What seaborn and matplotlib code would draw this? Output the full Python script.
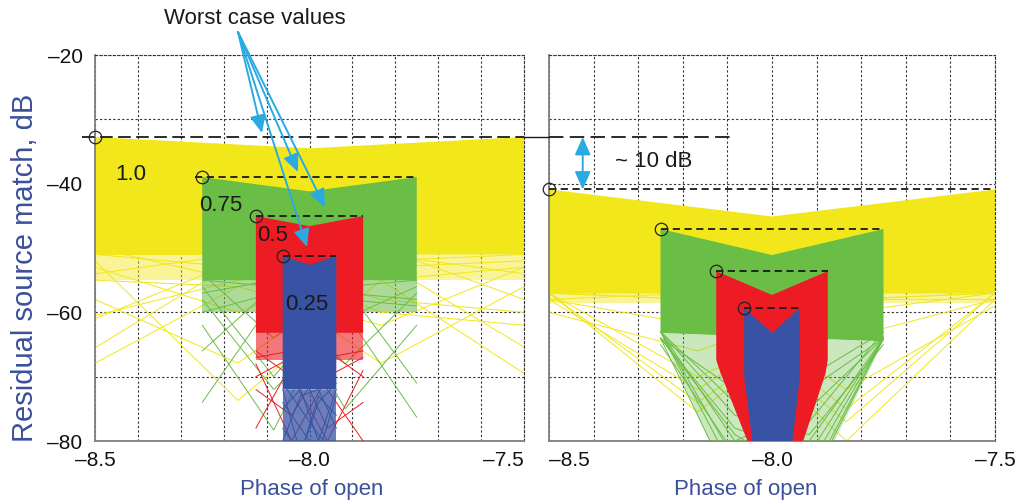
import numpy as np
import pandas as pd
import seaborn as sns
import matplotlib.pyplot as plt
from matplotlib.ticker import MultipleLocator, FuncFormatter

sns.set_theme(style="white")
plt.rcParams["font.family"] = ["Liberation Sans", "DejaVu Sans"]

# levels and colours of the bands
levels = ["1.0", "0.75", "0.5", "0.25"]
band_colors = ["#F2E71B", "#6ABD45", "#ED1C24", "#3853A4"]

# band spans along "Phase of open" (same in both panels)
band_lo = [-8.50, -8.25, -8.125, -8.0625]
band_hi = [-7.50, -7.75, -7.875, -7.9375]

# left panel: worst case (band edges), centre dip, solid / sparse bottoms
a_worst = [-32.75, -38.97, -45.03, -51.25]
a_mid = [-34.5, -41.2, -46.6, -52.6]
a_solid = [-51.0, -55.0, -63.2, -72.0]
a_sparse = [-55.0, -60.0, -67.4, -80.0]
a_dash_start = [-8.53, -8.267, -8.125, -8.0625]

# right panel
b_worst = [-40.9, -47.05, -53.6, -59.3]
b_mid = [-45.1, -51.1, -57.3, -63.2]

# right panel lower outlines (from right edge back to left edge)
b_yellow_bx = [-7.50, -8.50]
b_yellow_by = [-57.0, -57.0]
b_green_bx = [-7.75, -8.25]
b_green_by = [-64.5, -63.2]
b_red_bx = [-7.875, -7.88, -7.93, -8.055, -8.115, -8.125]
b_red_by = [-67.4, -69.5, -80.0, -80.0, -69.5, -67.4]
b_blue_bx = [-7.9375, -7.954, -8.044, -8.0625]
b_blue_by = [-70.0, -80.0, -80.0, -70.0]

# sparse zones of the right panel
b_yellow_sparse = -58.5
b_funnel_x = [-8.25, -8.14, -7.86, -7.75]
b_funnel_y = [-63.2, -80.0, -80.0, -64.5]

# individual stray traces, y at the band edges and at its thirds
a_yellow_traces = [
    [-65.5, -52, -50, -58], [-58, -67.9, -52, -51], [-52, -73.7, -55, -53],
    [-60.5, -55, -53, -52], [-51, -53, -67.9, -56], [-54, -51, -55, -69.5],
    [-50, -55, -52, -65.4], [-61, -52, -58, -60], [-53, -60, -51, -54],
    [-55, -56, -62, -53], [-67.9, -56, -51, -50], [-51, -51, -60, -62],
]
a_green_traces = [
    [-62, -78.3, -56, -55], [-74, -58, -55, -54], [-56, -70, -57, -58],
    [-55, -56, -75, -62], [-57, -55, -60, -76.3], [-60, -57, -68, -57],
    [-54, -64, -56, -71], [-66, -56, -58, -59], [-58, -72, -61, -56],
]
a_red_traces = [
    [-68, -80, -70, -67], [-78, -68, -66, -70], [-66, -70, -80, -69],
    [-70, -67, -72, -80], [-72, -76, -67, -66], [-67, -66, -78, -74],
]
a_blue_traces = [
    [-72, -82, -74, -71], [-80, -73, -72, -78], [-74, -78, -82, -73],
    [-71, -75, -79, -82], [-78, -82, -73, -76], [-75, -72, -80, -72],
]
b_yellow_traces = [
    [-57, -75.5, -58, -57], [-58, -72, -57, -57], [-57, -70, -60, -57],
    [-57, -58, -80, -58], [-57, -58, -77, -57], [-60, -66, -58, -57],
    [-57, -57, -72, -59], [-58, -62, -64, -58], [-57, -74, -58, -58],
    [-58, -57, -75, -57],
]
b_green_traces = [
    [-63, -80, -75, -64], [-64, -78, -82, -64], [-63, -85, -70, -63],
    [-64, -72, -84, -64], [-63, -76, -79, -65], [-65, -82, -77, -63],
    [-63, -83, -80, -64], [-64, -79, -86, -64], [-64, -88, -72, -64],
    [-63, -74, -87, -64],
]

xlabel = "Phase of open"
ylabel = "Residual source match, dB"
label_blue = "#3B4F9B"
arrow_blue = "#29ABE2"

fig = plt.figure(figsize=(10.16, 5.04), dpi=100)
ax_a = fig.add_axes([95 / 1016, 1 - 441 / 504, 429 / 1016, 386 / 504])
ax_b = fig.add_axes([549 / 1016, 1 - 441 / 504, 446 / 1016, 386 / 504])

dash_fmt = FuncFormatter(lambda v, p: f"{v:.1f}".replace("-", "\u2013"))
int_fmt = FuncFormatter(lambda v, p: f"{v:.0f}".replace("-", "\u2013"))


def style_axes(ax, show_y):
    ax.set_xlim(-8.5, -7.5)
    ax.set_ylim(-80, -20)
    ax.xaxis.set_major_locator(MultipleLocator(0.5))
    ax.xaxis.set_minor_locator(MultipleLocator(0.1))
    ax.yaxis.set_major_locator(MultipleLocator(20))
    ax.yaxis.set_minor_locator(MultipleLocator(10))
    ax.xaxis.set_major_formatter(dash_fmt)
    ax.yaxis.set_major_formatter(int_fmt)
    ax.grid(which="both", color="#333333", ls=(0, (2, 2)), lw=0.8)
    ax.set_axisbelow(True)
    ax.tick_params(which="both", length=0, labelsize=15, colors="#111111")
    ax.tick_params(axis="x", pad=7)
    ax.tick_params(axis="y", pad=9, labelleft=show_y)
    for side in ["left", "bottom"]:
        ax.spines[side].set_color("#7f7f7f")
        ax.spines[side].set_linewidth(1.3)
    for side in ["top", "right"]:
        ax.spines[side].set_color("#333333")
        ax.spines[side].set_linestyle((0, (2, 2)))
        ax.spines[side].set_linewidth(0.8)
    ax.set_xlabel("")
    ax.set_ylabel("")


def draw_traces(ax, lo, hi, traces, color, z):
    rows = []
    fr = [0, 1 / 3, 2 / 3, 1]
    for i, tr in enumerate(traces):
        for f, y in zip(fr, tr):
            rows.append({"x": lo + (hi - lo) * f, "y": y, "trace": i})
    df = pd.DataFrame(rows)
    sns.lineplot(data=df, x="x", y="y", units="trace", estimator=None,
                 sort=False, color=color, lw=0.7, ax=ax, legend=False,
                 zorder=z)


def top_outline(lo, hi, worst, mid):
    return [lo, (lo + hi) / 2, hi], [worst, mid, worst]


# ---- left panel ----
a_trace_sets = [a_yellow_traces, a_green_traces, a_red_traces, a_blue_traces]
a_sparse_alpha = [0.45, 0.55, 0.6, 0.75]
for i in range(4):
    c = band_colors[i]
    z = 2 + i
    lo, hi = band_lo[i], band_hi[i]
    tx, ty = top_outline(lo, hi, a_worst[i], a_mid[i])
    ax_a.fill_between([lo, hi], a_sparse[i], a_solid[i],
                      color=c, alpha=a_sparse_alpha[i], lw=0, zorder=z)
    draw_traces(ax_a, lo, hi, a_trace_sets[i], c, z + 0.2)
    ax_a.fill(tx + [hi, lo], ty + [a_solid[i], a_solid[i]], color=c, lw=0,
              zorder=z + 0.5)

# ---- right panel ----
b_bottoms = [(b_yellow_bx, b_yellow_by), (b_green_bx, b_green_by),
             (b_red_bx, b_red_by), (b_blue_bx, b_blue_by)]
for i in range(4):
    c = band_colors[i]
    z = 2 + i
    lo, hi = band_lo[i], band_hi[i]
    tx, ty = top_outline(lo, hi, b_worst[i], b_mid[i])
    if i == 0:
        ax_b.fill_between([lo, hi], b_yellow_sparse, b_yellow_by[0],
                          color=c, alpha=0.45, lw=0, zorder=z)
        draw_traces(ax_b, lo, hi, b_yellow_traces, c, z + 0.2)
    if i == 1:
        ax_b.fill(b_funnel_x, b_funnel_y, color=c, alpha=0.35, lw=0,
                  zorder=z)
        draw_traces(ax_b, lo, hi, b_green_traces, c, z + 0.2)
    bx, by = b_bottoms[i]
    ax_b.fill(tx + bx, ty + by, color=c, lw=0, zorder=z + 0.5)

style_axes(ax_a, True)
style_axes(ax_b, False)

# ---- worst case markers and dashed levels ----
short_dash = (0, (4, 2.5))
for i in range(4):
    ax_a.plot([a_dash_start[i], band_hi[i]], [a_worst[i]] * 2, color="k",
              lw=1.3, ls=short_dash if i else (0, (7, 3)), clip_on=False,
              zorder=10)
    ax_a.plot(band_lo[i], a_worst[i], "o", mfc="none", mec="#222222", ms=9,
              mew=0.9, clip_on=False, zorder=11)
    ax_b.plot([band_lo[i], band_hi[i]], [b_worst[i]] * 2, color="k",
              lw=1.3, ls=short_dash, clip_on=False, zorder=10)
    ax_b.plot(band_lo[i], b_worst[i], "o", mfc="none", mec="#222222", ms=9,
              mew=0.9, clip_on=False, zorder=11)

# left worst case carried over to the right panel
ax_b.plot([-8.556, -8.5], [a_worst[0]] * 2, color="k", lw=1.0, clip_on=False,
          zorder=10)
ax_b.plot([-8.5, -8.092], [a_worst[0]] * 2, color="k", lw=1.3,
          ls=(0, (8, 3.5)), clip_on=False, zorder=10)

# band labels
label_xy = [(-8.416, -38.65), (-8.206, -43.32), (-8.085, -47.98),
            (-8.006, -58.86)]
for lab, (x, y) in zip(levels, label_xy):
    ax_a.text(x, y, lab, ha="center", va="center", fontsize=16, color="k",
              zorder=12)

# worst case arrows
arrow_start = (-8.1667, -16.42)
arrow_tips = [(-8.1107, -32.12), (-8.0268, -38.19), (-7.9639, -43.63),
              (-8.0058, -49.85)]
for tip in arrow_tips:
    ax_a.annotate("", xy=tip, xytext=arrow_start, annotation_clip=False,
                  arrowprops=dict(arrowstyle="-|>,head_length=0.9,head_width=0.4",
                                  color=arrow_blue, lw=1.4, shrinkA=0, shrinkB=0),
                  zorder=13)
fig.text(255 / 1016, 1 - 18 / 504, "Worst case values", ha="center",
         va="center", fontsize=16, color="k")

# ~10 dB gap
ax_b.annotate("", xy=(-8.4244, a_worst[0]), xytext=(-8.4244, b_worst[0]),
              annotation_clip=False,
              arrowprops=dict(arrowstyle="<|-|>,head_length=0.9,head_width=0.4",
                              color=arrow_blue, lw=1.4, shrinkA=0, shrinkB=0),
              zorder=13)
ax_b.text(-8.352, -36.63, "~ 10 dB", ha="left", va="center", fontsize=16,
          color="k", zorder=12)

# axis labels
fig.text(25 / 1016, 1 - 268 / 504, ylabel, rotation=90, ha="center",
         va="center", fontsize=21, color=label_blue)
fig.text(312 / 1016, 1 - 489 / 504, xlabel, ha="center", va="center",
         fontsize=16, color=label_blue)
fig.text(746 / 1016, 1 - 489 / 504, xlabel, ha="center", va="center",
         fontsize=16, color=label_blue)

# end tick labels sit inside the panel edges
fig.canvas.draw()
for lab in ax_a.get_xticklabels():
    if lab.get_text().endswith("7.5"):
        lab.set_horizontalalignment("right")
for lab in ax_b.get_xticklabels():
    if lab.get_text().endswith("8.5"):
        lab.set_horizontalalignment("left")

fig.savefig("out.png", dpi=100)
